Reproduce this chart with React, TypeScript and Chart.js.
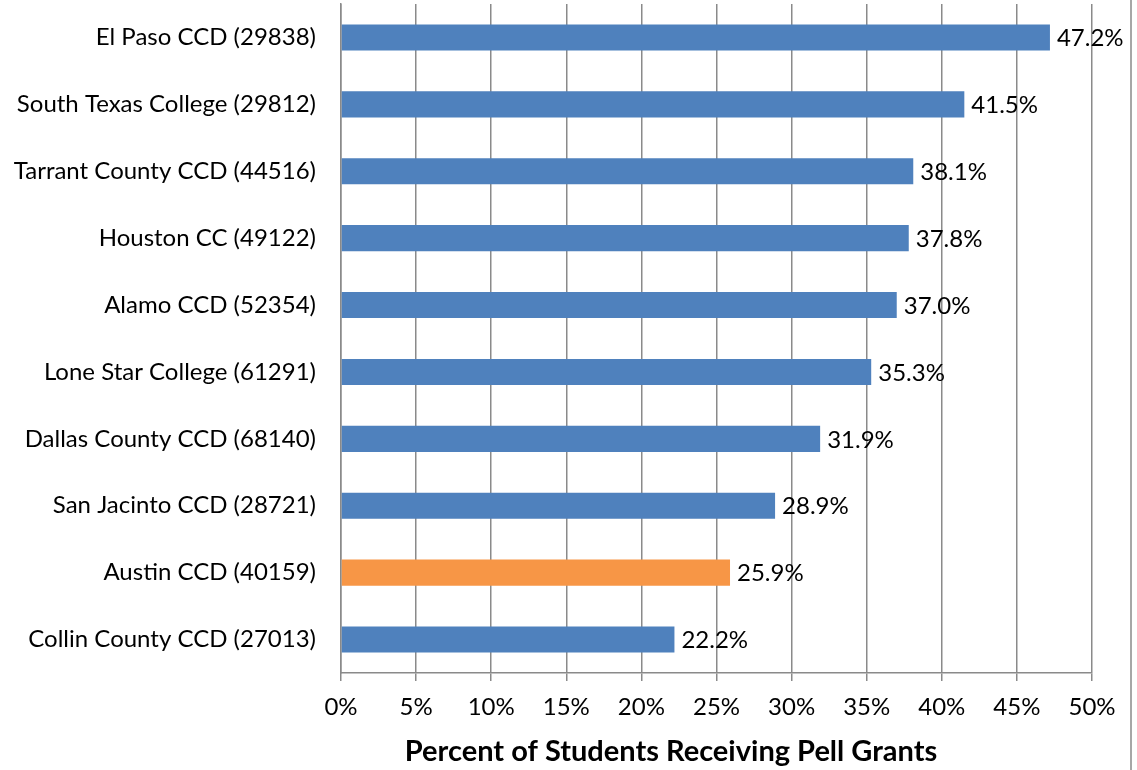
import React, { useEffect, useRef } from "react";
import { Chart, registerables } from "chart.js";

Chart.register(...registerables);

const categories = [
  "El Paso CCD (29838)",
  "South Texas College (29812)",
  "Tarrant County CCD (44516)",
  "Houston CC (49122)",
  "Alamo CCD (52354)",
  "Lone Star College (61291)",
  "Dallas County CCD (68140)",
  "San Jacinto CCD (28721)",
  "Austin CCD (40159)",
  "Collin County CCD (27013)",
];
const pellPercent = [47.2, 41.5, 38.1, 37.8, 37.0, 35.3, 31.9, 28.9, 25.9, 22.2];
const highlightCategory = "Austin CCD (40159)";
const xTitle = "Percent of Students Receiving Pell Grants";

const BLUE = "#4F81BD";
const ORANGE = "#F79646";
const GRID = "#8a8a8a";
const FONT = "Lato, 'Open Sans', sans-serif";

export default function App() {
  const ref = useRef<HTMLCanvasElement | null>(null);

  useEffect(() => {
    if (!ref.current) return;
    const labelPlugin = {
      id: "extras",
      afterDatasetsDraw(chart: any) {
        const ctx = chart.ctx;
        const meta = chart.getDatasetMeta(0);
        ctx.save();
        ctx.font = `24px ${FONT}`;
        ctx.fillStyle = "#000";
        ctx.textAlign = "left";
        ctx.textBaseline = "middle";
        meta.data.forEach((bar: any, i: number) => {
          ctx.fillText(pellPercent[i].toFixed(1) + "%", bar.x + 7, bar.y + 1);
        });
        ctx.font = `bold 29px ${FONT}`;
        ctx.textAlign = "center";
        ctx.fillText(xTitle, 671, 752);
        ctx.strokeStyle = GRID;
        ctx.lineWidth = 1.5;
        ctx.beginPath();
        ctx.moveTo(1131, 0);
        ctx.lineTo(1131, 770);
        ctx.stroke();
        ctx.restore();
      },
    };
    const chart = new Chart(ref.current, {
      type: "bar",
      data: {
        labels: categories,
        datasets: [
          {
            data: pellPercent,
            backgroundColor: categories.map((c) => (c === highlightCategory ? ORANGE : BLUE)),
            barPercentage: 0.39,
            categoryPercentage: 1,
          },
        ],
      },
      options: {
        indexAxis: "y",
        animation: false,
        responsive: false,
        maintainAspectRatio: false,
        layout: { padding: { top: 4, right: 45, left: 0, bottom: 0 } },
        plugins: { legend: { display: false }, tooltip: { enabled: false } },
        scales: {
          x: {
            min: 0,
            max: 50,
            ticks: {
              stepSize: 5,
              callback: (v: any) => v + "%",
              font: { size: 24, family: FONT },
              color: "#000",
              padding: 12,
              maxRotation: 0,
            },
            grid: { color: GRID, lineWidth: 1.5, tickLength: 8 },
            border: { color: GRID, width: 1.5 },
            afterFit: (s: any) => {
              s.height = 97;
            },
          },
          y: {
            ticks: { font: { size: 24, family: FONT }, color: "#000", padding: 25 },
            grid: { display: false, drawTicks: false },
            border: { color: GRID, width: 1.5 },
            afterFit: (s: any) => {
              s.width = 341;
              s.paddingTop = 0;
              s.paddingBottom = 0;
            },
          },
        },
      },
      plugins: [labelPlugin],
    });
    return () => chart.destroy();
  }, []);

  return (
    <div style={{ position: "fixed", left: 0, top: 0, width: 1137, height: 770, background: "#fff" }}>
      <canvas ref={ref} width={1137} height={770} style={{ width: 1137, height: 770 }} />
    </div>
  );
}
